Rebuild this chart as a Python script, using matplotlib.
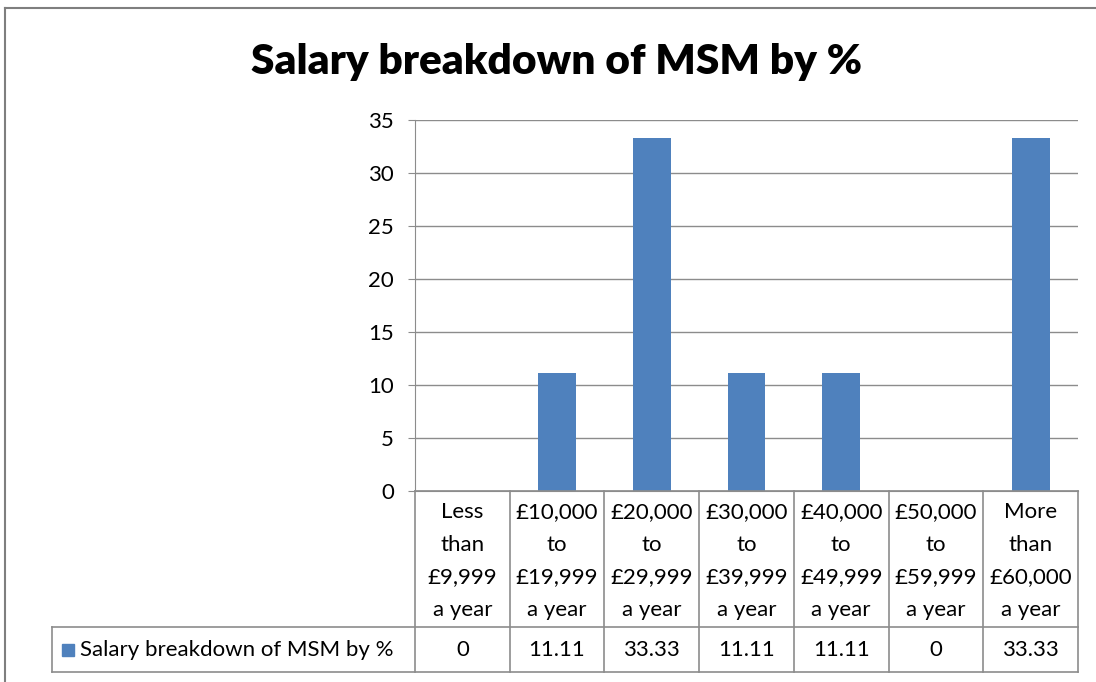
import matplotlib
matplotlib.use("Agg")
import matplotlib.pyplot as plt
from matplotlib.lines import Line2D
from matplotlib.patches import Rectangle

# data
categories = [
    "Less\nthan\n£9,999\na year",
    "£10,000\nto\n£19,999\na year",
    "£20,000\nto\n£29,999\na year",
    "£30,000\nto\n£39,999\na year",
    "£40,000\nto\n£49,999\na year",
    "£50,000\nto\n£59,999\na year",
    "More\nthan\n£60,000\na year",
]
values = [0, 11.11, 33.33, 11.11, 11.11, 0, 33.33]
value_labels = ["0", "11.11", "33.33", "11.11", "11.11", "0", "33.33"]
series_name = "Salary breakdown of MSM by %"
title = "Salary breakdown of MSM by %"
yticks = [0, 5, 10, 15, 20, 25, 30, 35]

plt.rcParams['font.family'] = ['Lato', 'DejaVu Sans']

W, H = 1096, 682
bar_color = '#4F81BD'
line_color = '#8C8C8C'
grid_color = '#8C8C8C'
fs = 16

fig = plt.figure(figsize=(W / 100, H / 100), dpi=100)

# pixel layout
px_left, px_right = 415, 1078
px_top, px_zero = 120, 491
px_row, px_bottom = 627, 672
px_leg = 52
n = len(categories)
cat_w = (px_right - px_left) / n

# outer chart border
fig.add_artist(Line2D([5 / W, 1.0], [1 - 8 / H, 1 - 8 / H], color='#7F7F7F', lw=1.5))
fig.add_artist(Line2D([5 / W, 5 / W], [0, 1 - 8 / H], color='#7F7F7F', lw=1.5))

fig.text(557 / W, 1 - 62 / H, title, ha='center', va='center',
         fontsize=30.5, fontweight='heavy', color='black')

# main plot
ax = fig.add_axes([px_left / W, 1 - px_zero / H, (px_right - px_left) / W, (px_zero - px_top) / H])
x = list(range(n))
ax.bar(x, values, width=0.4, color=bar_color, zorder=3)
ax.set_xlim(-0.5, n - 0.5)
ax.set_ylim(0, 35)
ax.set_yticks(yticks)
ax.tick_params(axis='y', labelsize=fs, length=5, color=line_color, pad=10)
ax.tick_params(axis='x', bottom=False, labelbottom=False)
ax.yaxis.grid(True, color=grid_color, lw=1)
ax.set_axisbelow(True)
for s in ['top', 'right']:
    ax.spines[s].set_visible(False)
for s in ['left', 'bottom']:
    ax.spines[s].set_color(line_color)

# data table
tax = fig.add_axes([px_leg / W, 1 - px_bottom / H, (px_right - px_leg) / W, (px_bottom - px_zero) / H])
tax.set_xlim(-0.5 - (px_left - px_leg) / cat_w, n - 0.5)
tax.set_ylim(px_bottom - px_zero, 0)
tax.axis('off')
hdr = px_row - px_zero
tot = px_bottom - px_zero
lw = 1.2
for i in range(n + 1):
    tax.plot([i - 0.5, i - 0.5], [0, tot], color=line_color, lw=lw, clip_on=False)
tax.plot([-0.5, n - 0.5], [0, 0], color=line_color, lw=lw, clip_on=False)
xl = tax.get_xlim()[0]
tax.plot([xl, n - 0.5], [hdr, hdr], color=line_color, lw=lw, clip_on=False)
tax.plot([xl, n - 0.5], [tot, tot], color=line_color, lw=lw, clip_on=False)
tax.plot([xl, xl], [hdr, tot], color=line_color, lw=lw, clip_on=False)

for i, (cat, v) in enumerate(zip(categories, value_labels)):
    tax.text(i, hdr / 2 + 2, cat, ha='center', va='center', fontsize=fs, linespacing=1.78)
    tax.text(i, (hdr + tot) / 2, v, ha='center', va='center', fontsize=fs)

sq = 12 / cat_w
tax.add_patch(Rectangle((xl + 10 / cat_w, (hdr + tot) / 2 - 6), sq, 12,
                        color=bar_color, clip_on=False))
tax.text(xl + 28 / cat_w, (hdr + tot) / 2, series_name, ha='left', va='center', fontsize=fs)

fig.savefig("out.png", dpi=100)
